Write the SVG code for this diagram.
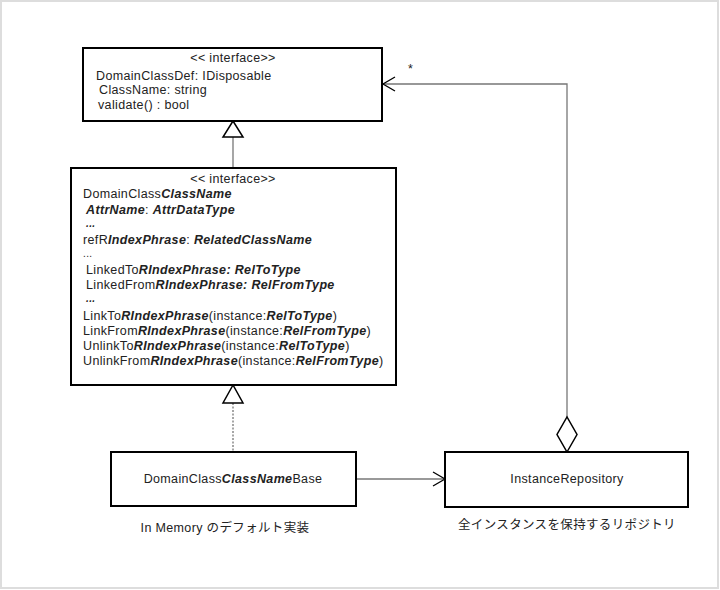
<svg xmlns="http://www.w3.org/2000/svg" width="720" height="590" viewBox="0 0 720 590">
<style>
text{font-family:"Liberation Sans","Noto Sans CJK JP",sans-serif;font-size:12.5px;fill:#222;letter-spacing:0.35px}
.bi{font-weight:bold;font-style:italic}
.dots{font-size:10px}
.box{fill:#fff;stroke:#000;stroke-width:2}
.conn{stroke:#777;stroke-width:1.3;fill:none}
.head{stroke:#000;stroke-width:1.3;fill:none}
.c{text-anchor:middle}
</style>
<rect x="1" y="1" width="717" height="587" fill="#fff" stroke="#ddd" stroke-width="2"/>
<g id="connectors">
<line class="conn" x1="233" y1="137" x2="233" y2="168"/>
<polygon points="233,121 223,137 243,137" fill="#fff" stroke="#000" stroke-width="1.5"/>
<line class="conn" x1="233" y1="403" x2="233" y2="452" stroke-dasharray="2,1.5"/>
<polygon points="233,385 223,403 243,403" fill="#fff" stroke="#000" stroke-width="1.5"/>
<line class="conn" x1="356" y1="479" x2="445" y2="479"/>
<polyline class="head" points="433,472 445,479 433,486"/>
<polyline class="conn" points="567,417 567,84 383,84"/>
<polyline class="head" points="395,77 383,84 395,91"/>
<polygon points="567,452 577,434.5 567,417 557,434.5" fill="#fff" stroke="#000" stroke-width="1.5"/>
<text x="408" y="73" font-size="10">*</text>
</g>
<g id="DomainClassDef">
<rect class="box" x="83" y="48" width="299" height="73"/>
<text class="c" x="233" y="62">&lt;&lt; interface&gt;&gt;</text>
<text x="96" y="80">DomainClassDef: IDisposable</text>
<text x="99" y="94">ClassName: string</text>
<text x="98" y="109">validate() : bool</text>
</g>
<g id="DomainClassClassName">
<rect class="box" x="71" y="168" width="325" height="217"/>
<text class="c" x="233" y="183">&lt;&lt; interface&gt;&gt;</text>
<text x="83" y="198">DomainClass<tspan class="bi">ClassName</tspan></text>
<text x="86" y="214" class="bi">AttrName<tspan font-weight="normal" font-style="normal">: </tspan>AttrDataType</text>
<text x="86" y="227" class="bi dots">...</text>
<text x="83" y="244">refR<tspan class="bi">IndexPhrase</tspan>: <tspan class="bi">RelatedClassName</tspan></text>
<text x="83" y="257" class="dots">...</text>
<text x="86" y="274">LinkedTo<tspan class="bi">RIndexPhrase: RelToType</tspan></text>
<text x="86" y="289">LinkedFrom<tspan class="bi">RIndexPhrase: RelFromType</tspan></text>
<text x="86" y="302" class="bi dots">...</text>
<text x="83" y="320">LinkTo<tspan class="bi">RIndexPhrase</tspan>(instance:<tspan class="bi">RelToType</tspan>)</text>
<text x="83" y="335">LinkFrom<tspan class="bi">RIndexPhrase</tspan>(instance:<tspan class="bi">RelFromType</tspan>)</text>
<text x="83" y="350">UnlinkTo<tspan class="bi">RIndexPhrase</tspan>(instance:<tspan class="bi">RelToType</tspan>)</text>
<text x="83" y="365">UnlinkFrom<tspan class="bi">RIndexPhrase</tspan>(instance:<tspan class="bi">RelFromType</tspan>)</text>
</g>
<g id="DomainClassClassNameBase">
<rect class="box" x="111" y="452" width="245" height="54"/>
<text class="c" x="233" y="483">DomainClass<tspan class="bi">ClassName</tspan>Base</text>
<text class="c" x="225" y="532">In Memory のデフォルト実装</text>
</g>
<g id="InstanceRepository">
<rect class="box" x="445" y="452" width="243" height="55"/>
<text class="c" x="567" y="483">InstanceRepository</text>
<text class="c" x="567" y="529">全インスタンスを保持するリポジトリ</text>
</g>
</svg>
